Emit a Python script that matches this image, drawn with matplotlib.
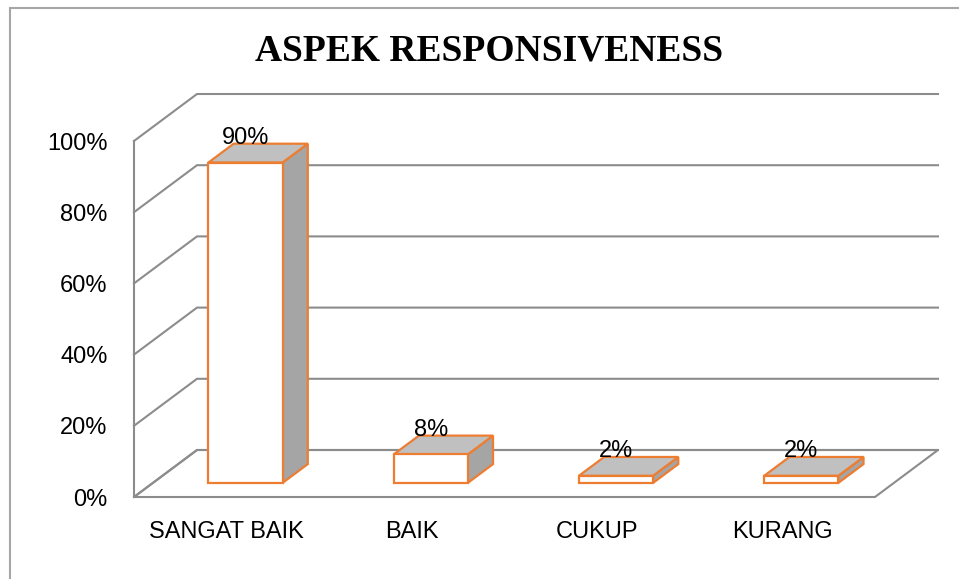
import matplotlib
matplotlib.use('Agg')
import matplotlib.pyplot as plt
from matplotlib.patches import Polygon, Rectangle

# ---- data ----
categories = ['SANGAT BAIK', 'BAIK', 'CUKUP', 'KURANG']
values = [0.90, 0.08, 0.02, 0.02]
value_labels = ['90%', '8%', '2%', '2%']
y_ticks = [0.0, 0.2, 0.4, 0.6, 0.8, 1.0]
y_tick_labels = ['0%', '20%', '40%', '60%', '80%', '100%']
title = 'ASPEK RESPONSIVENESS'

# ---- style ----
W, H = 959, 579
GRID = '#8c8c8c'
EDGE = '#ED7D31'
TOP = '#c0c0c0'
SIDE = '#a5a5a5'
FONT = ['Liberation Sans', 'DejaVu Sans']

plt.rcParams['font.family'] = FONT

fig = plt.figure(figsize=(W / 100, H / 100), dpi=100)
fig.patch.set_facecolor('white')

# outer chart border (top & left visible)
fig.patches.append(Rectangle((10 / W, -0.1), 1.2, 1 - 8 / H + 0.1,
                             transform=fig.transFigure, fill=False,
                             edgecolor='#a6a6a6', lw=1.5))

# front plane axes
ax = fig.add_axes([134 / W, (H - 497) / H, 741 / W, 356 / H])
N = len(categories)
ax.set_xlim(0, N)
ax.set_ylim(0, 1)
ax.patch.set_visible(False)
for s in ax.spines.values():
    s.set_visible(False)

# depth vector (pixels) converted to data units
DEPTH_PX = (63, 47)
p0 = ax.transData.transform((0, 0))
p1 = ax.transData.transform((1, 1))
DX = DEPTH_PX[0] / (p1[0] - p0[0])
DY = DEPTH_PX[1] / (p1[1] - p0[1])


def P(x, y, d):
    return (x + d * DX, y + d * DY)


# floor
ax.add_patch(Polygon([P(0, 0, 0), P(N, 0, 0), P(N, 0, 1), P(0, 0, 1)],
                     closed=True, facecolor='white', edgecolor=GRID,
                     lw=1.5, clip_on=False, zorder=1))
# left wall front edge
ax.plot(*zip(P(0, 0, 0), P(0, 1, 0)), color=GRID, lw=1.5, clip_on=False, zorder=1)
# gridlines on left and back wall
for t in y_ticks:
    pts = [P(0, t, 0), P(0, t, 1), P(N, t, 1)]
    ax.plot(*zip(*pts), color=GRID, lw=1.5, clip_on=False, zorder=1,
            solid_joinstyle='miter')

# bars
BW = 0.4
DF, DB = 0.3, 0.7
for i, v in enumerate(values):
    x0 = i + 0.5 - BW / 2
    x1 = i + 0.5 + BW / 2
    front = [P(x0, 0, DF), P(x1, 0, DF), P(x1, v, DF), P(x0, v, DF)]
    top = [P(x0, v, DF), P(x1, v, DF), P(x1, v, DB), P(x0, v, DB)]
    side = [P(x1, 0, DF), P(x1, v, DF), P(x1, v, DB), P(x1, 0, DB)]
    for poly, fc in ((side, SIDE), (top, TOP), (front, 'white')):
        ax.add_patch(Polygon(poly, closed=True, facecolor=fc, edgecolor=EDGE,
                             lw=1.6, clip_on=False, zorder=3,
                             joinstyle='miter'))
    lx, _ = P(i + 0.5, v, DF)
    _, ly = P(i + 0.5, v, DB)
    ax.text(lx, ly, value_labels[i], ha='center', va='baseline',
            fontsize=17, color='black', zorder=5, clip_on=False)

# axis labels
ax.set_xticks([i + 0.5 for i in range(N)])
ax.set_xticklabels(categories, fontsize=17)
ax.set_yticks(y_ticks)
ax.set_yticklabels(y_tick_labels, fontsize=17)
ax.tick_params(axis='both', length=0)
ax.tick_params(axis='y', pad=19)
ax.tick_params(axis='x', pad=17)

fig.text(489 / W, 1 - 51 / H, title, ha='center', va='center',
         fontsize=27, fontweight='bold',
         family=['Liberation Serif', 'DejaVu Serif'])

fig.savefig('out.png', dpi=100, facecolor='white')
